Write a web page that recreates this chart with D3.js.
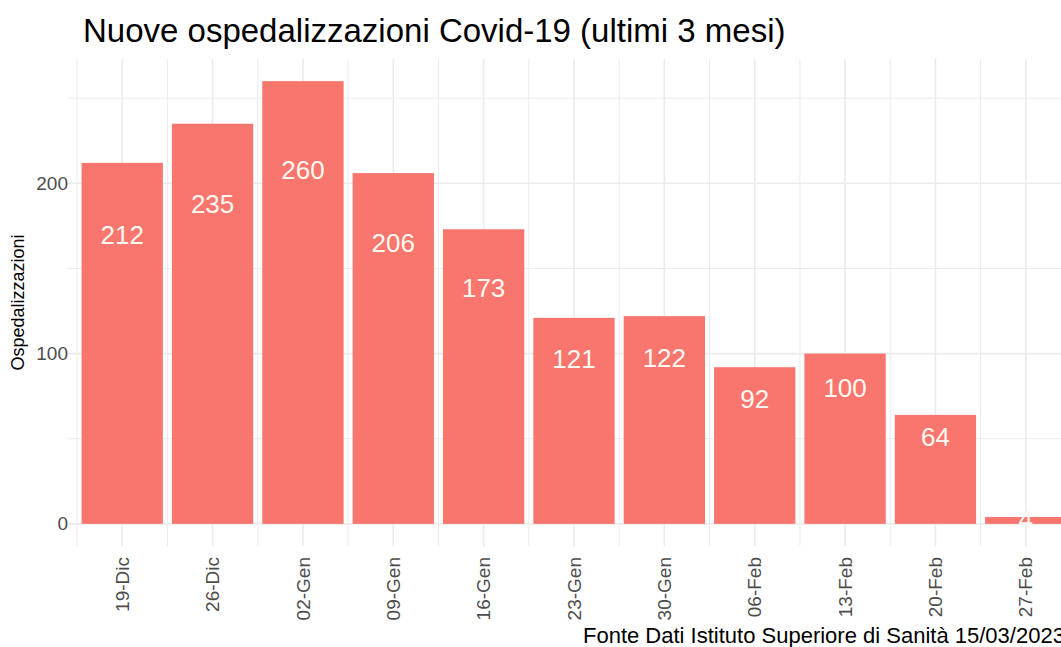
<!DOCTYPE html>
<html>
<head>
<meta charset="utf-8">
<script src="https://cdn.jsdelivr.net/npm/d3@7"></script>
<style>
    body { margin: 0; background: white; overflow: hidden; }
    svg { display: block; font-family: "Liberation Sans", Arial, sans-serif; }
</style>
</head>
<body>
<svg id="svg"></svg>
<script>
const width = 1061;
const height = 647;

const weeks = ['19-Dic', '26-Dic', '02-Gen', '09-Gen', '16-Gen', '23-Gen', '30-Gen', '06-Feb', '13-Feb', '20-Feb', '27-Feb'];
const ricoveri = [212, 235, 260, 206, 173, 121, 122, 92, 100, 64, 4];
const yTicks = [0, 100, 200];
const yMinor = [50, 150, 250];

const titleText = 'Nuove ospedalizzazioni Covid-19 (ultimi 3 mesi)';
const yTitle = 'Ospedalizzazioni';
const caption = 'Fonte Dati Istituto Superiore di Sanità 15/03/2023';

// panel runs past the right edge of the window, like the cropped original
const panel = { left: 68, right: 1080, top: 59, bottom: 546 };

const svg = d3.select('#svg')
    .attr('width', width)
    .attr('height', height);

let x = d3.scaleBand()
    .domain(weeks)
    .range([panel.left, panel.right])
    .paddingInner(0.1)
    .paddingOuter(0.15);

// ggplot-like 5% expansion below zero and above the max
let yTop = d3.max(ricoveri) * 1.05;
let y = d3.scaleLinear()
    .domain([-d3.max(ricoveri) * 0.05, yTop])
    .range([panel.bottom, panel.top]);

let centers = weeks.map(w => x(w) + x.bandwidth() / 2);
let mids = d3.range(weeks.length + 1).map(i => centers[0] + (i - 0.5) * x.step());

let grid = svg.append('g');
grid.selectAll('line.ymin')
    .data(yMinor)
    .enter()
    .append('line')
    .attr('x1', panel.left).attr('x2', panel.right)
    .attr('y1', d => y(d)).attr('y2', d => y(d))
    .style('stroke', '#EBEBEB').style('stroke-width', 1);
grid.selectAll('line.ymaj')
    .data(yTicks)
    .enter()
    .append('line')
    .attr('x1', panel.left).attr('x2', panel.right)
    .attr('y1', d => y(d)).attr('y2', d => y(d))
    .style('stroke', '#EBEBEB').style('stroke-width', 1.6);
grid.selectAll('line.xmin')
    .data(mids)
    .enter()
    .append('line')
    .attr('x1', d => d).attr('x2', d => d)
    .attr('y1', panel.top).attr('y2', panel.bottom)
    .style('stroke', '#EBEBEB').style('stroke-width', 1);
grid.selectAll('line.xmaj')
    .data(centers)
    .enter()
    .append('line')
    .attr('x1', d => d).attr('x2', d => d)
    .attr('y1', panel.top).attr('y2', panel.bottom)
    .style('stroke', '#EBEBEB').style('stroke-width', 1.6);

svg.selectAll('rect.bar')
    .data(ricoveri)
    .enter()
    .append('rect')
    .attr('x', (d, i) => x(weeks[i]))
    .attr('width', x.bandwidth())
    .attr('y', d => y(d))
    .attr('height', d => y(0) - y(d))
    .style('fill', '#F8766D');

svg.selectAll('text.val')
    .data(ricoveri)
    .enter()
    .append('text')
    .attr('x', (d, i) => centers[i])
    .attr('y', d => y(d * 0.8))
    .attr('dy', '0.35em')
    .attr('text-anchor', 'middle')
    .style('font-size', '26px')
    .style('fill', '#FFF8F0')
    .text(d => d);

// y axis
let yAxis = svg.append('g')
    .attr('transform', `translate(${panel.left},0)`)
    .call(d3.axisLeft(y).tickValues(yTicks).tickSize(0).tickPadding(0));
yAxis.select('.domain').remove();
yAxis.selectAll('text')
    .style('font-size', '19px')
    .style('fill', '#4D4D4D')
    .style('font-family', '"Liberation Sans", Arial, sans-serif');

// x axis
let xAxis = svg.append('g')
    .attr('transform', `translate(0,${panel.bottom})`)
    .call(d3.axisBottom(x).tickSize(0));
xAxis.select('.domain').remove();
xAxis.selectAll('text')
    .attr('transform', 'rotate(-90)')
    .attr('x', -11)
    .attr('y', 0)
    .attr('dy', '0.35em')
    .attr('text-anchor', 'end')
    .style('font-size', '19px')
    .style('fill', '#4D4D4D')
    .style('font-family', '"Liberation Sans", Arial, sans-serif');

svg.append('text')
    .attr('transform', `translate(24,${(panel.top + panel.bottom) / 2}) rotate(-90)`)
    .attr('text-anchor', 'middle')
    .style('font-size', '18px')
    .style('fill', 'black')
    .text(yTitle);

svg.append('text')
    .attr('x', 83)
    .attr('y', 42)
    .style('font-size', '33px')
    .style('fill', 'black')
    .text(titleText);

// caption runs off the right edge, as in the original picture
svg.append('text')
    .attr('x', 583)
    .attr('y', 643)
    .style('font-size', '22px')
    .style('fill', 'black')
    .text(caption);
</script>
</body>
</html>
